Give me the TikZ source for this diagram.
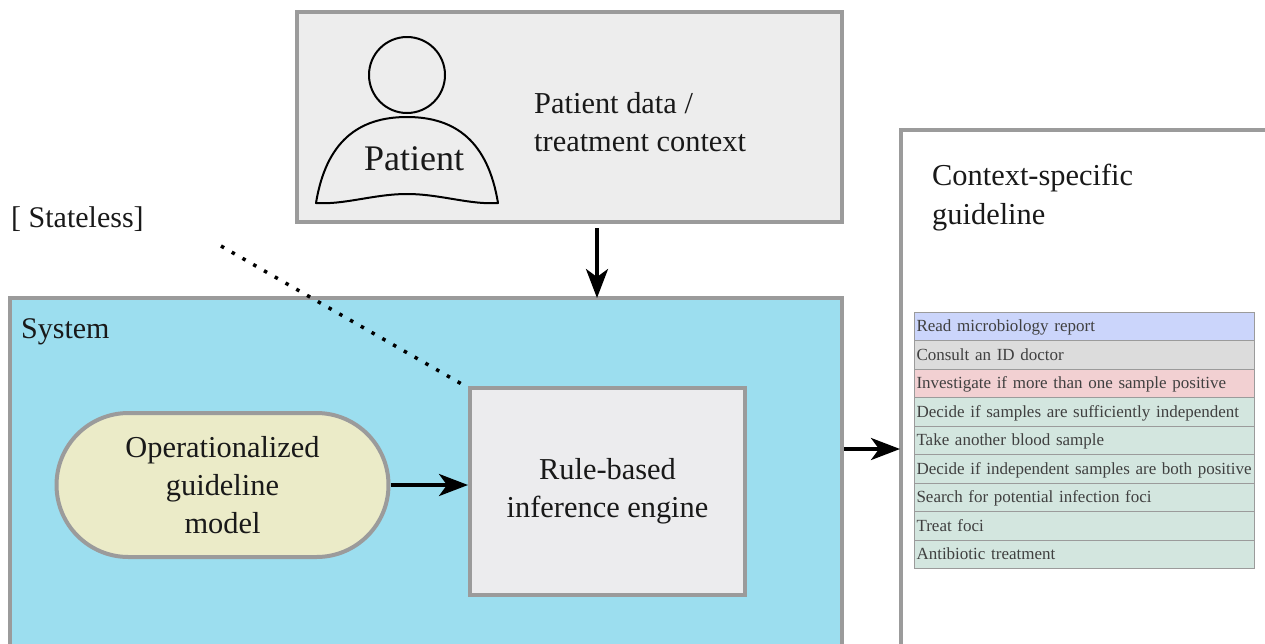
\documentclass[tikz,border=0pt]{standalone}
\usepackage{fontspec}
\setmainfont{Liberation Serif}
\usetikzlibrary{arrows.meta}

\definecolor{boxgray}{HTML}{9B9B9B}
\definecolor{patientfill}{HTML}{EDEDED}
\definecolor{systemfill}{HTML}{9CDEEF}
\definecolor{enginefill}{HTML}{ECECEE}
\definecolor{modelfill}{HTML}{EBEBC8}
\definecolor{rowblue}{HTML}{CBD5FB}
\definecolor{rowgray}{HTML}{DCDCDC}
\definecolor{rowred}{HTML}{F2D0D2}
\definecolor{rowgreen}{HTML}{D3E6DF}

\begin{document}
\begin{tikzpicture}[
  x=1pt, y=-1pt,
  box/.style={draw=boxgray, line width=4pt, inner sep=0pt, anchor=north west},
  label/.style={font=\fontsize{30.4}{38.3}\selectfont, text=black!90, align=center, inner sep=0pt},
  row/.style={draw=boxgray, line width=1pt, minimum width=340pt, minimum height=28.5pt,
    inner sep=0pt, font=\fontsize{17}{18}\selectfont, text=black!75, text height=11pt, text depth=0pt},
  flow/.style={-{Stealth[length=29pt, width=22pt, inset=8pt]}, line width=3.6pt}
]
\useasboundingbox (0,0) rectangle (1265,643);

\node[box, fill=patientfill, minimum width=545pt, minimum height=210pt] (patientbox) at (295,10) {};
\node[box, fill=systemfill, minimum width=832pt, minimum height=360pt] (system) at (8,296) {};
\node[box, fill=white, minimum width=370pt, minimum height=520pt] (guideline) at (899,128) {};

\node[draw=black, line width=2pt, circle, minimum size=76pt, inner sep=0pt] (head) at (407,75) {};
\draw[line width=2pt, line join=round] (316,203)
  .. controls (326,142) and (358,117) .. (407,117)
  .. controls (456,117) and (488,142) .. (498,203)
  .. controls (470,205) and (440,194) .. (407,194)
  .. controls (374,194) and (344,205) .. (316,203) -- cycle;
\node[label, font=\fontsize{36}{38}\selectfont] (patient) at (414,159) {Patient};
\node[label, align=left, anchor=west] (patientdata) at (534,122) {Patient data /\\treatment context};

\node[label, font=\fontsize{30}{38}\selectfont, anchor=west] (stateless) at (11,219) {[ Stateless]};
\node[label, font=\fontsize{30}{38}\selectfont, anchor=west] (systemlabel) at (21,332) {System};
\node[label, align=left, anchor=west] (contextlabel) at (932,197.5) {Context-specific\\guideline};

\node[box, anchor=center, fill=modelfill, rounded corners=72pt, minimum width=332pt, minimum height=144pt,
  label, draw=boxgray, line width=4pt] (model) at (222.5,485) {Operationalized\\guideline\\model};
\node[box, anchor=center, fill=enginefill, minimum width=275pt, minimum height=207pt,
  label, draw=boxgray, line width=4pt] (engine) at (607.5,491) {Rule-based\\inference engine};

% guideline steps
\foreach \i/\txt/\col in {
  0/Read microbiology report/rowblue,
  1/Consult an ID doctor/rowgray,
  2/Investigate if more than one sample positive/rowred,
  3/Decide if samples are sufficiently independent/rowgreen,
  4/Take another blood sample/rowgreen,
  5/Decide if independent samples are both positive/rowgreen,
  6/Search for potential infection foci/rowgreen,
  7/Treat foci/rowgreen,
  8/Antibiotic treatment/rowgreen}
{
  \node[row, fill=\col, text width=336pt, align=left] (row\i) at (1084.5,{326.25+28.5*\i}) {\txt};
}

\coordinate (dataend) at (597,298);
\coordinate (outstart) at (844,449);
\coordinate (outend) at (900,449);
\coordinate (dotstart) at (221,246);

\draw[flow] (597,228) -- (dataend);
\draw[flow] (model.east) -- (engine.west |- model.east);
\draw[flow] (outstart) -- (outend);
\draw[line width=3.5pt, dash pattern=on 3.5pt off 8.9pt] (dotstart) -- ([xshift=-2pt,yshift=-1pt]engine.north west);
\end{tikzpicture}
\end{document}
